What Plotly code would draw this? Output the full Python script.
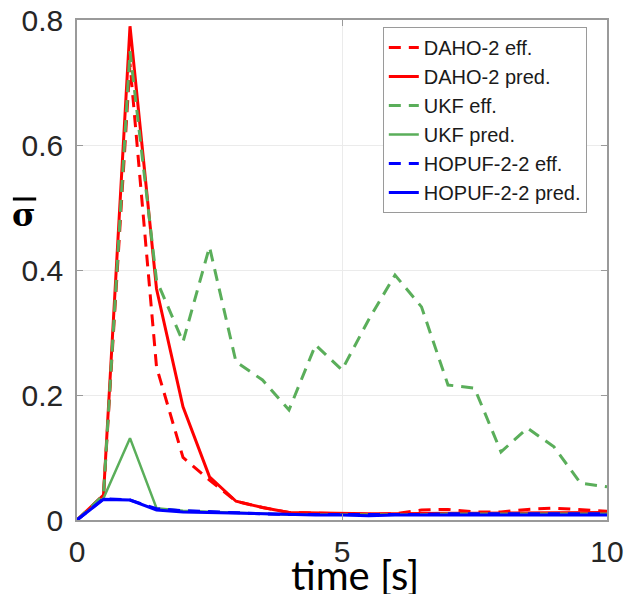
import plotly.graph_objects as go

time_s = [0, 0.5, 1, 1.5, 2, 2.5, 3, 3.5, 4, 4.5, 5, 5.5, 6, 6.5, 7, 7.5, 8, 8.5, 9, 9.5, 10]

daho_eff = [0, 0.04, 0.73, 0.245, 0.10, 0.064, 0.03, 0.02, 0.012, 0.011, 0.01, 0.009, 0.01,
            0.016, 0.017, 0.013, 0.013, 0.017, 0.019, 0.016, 0.014]
daho_pred = [0, 0.04, 0.79, 0.37, 0.181, 0.069, 0.03, 0.02, 0.012, 0.011, 0.011, 0.01, 0.01,
             0.011, 0.011, 0.011, 0.011, 0.011, 0.012, 0.012, 0.012]
ukf_eff = [0, 0.04, 0.75, 0.384, 0.285, 0.437, 0.253, 0.224, 0.176, 0.28, 0.24, 0.32, 0.392,
           0.341, 0.216, 0.211, 0.109, 0.147, 0.117, 0.059, 0.053]
ukf_pred = [0, 0.035, 0.131, 0.019, 0.015, 0.013, 0.011, 0.01, 0.009, 0.009, 0.009, 0.008, 0.009,
            0.009, 0.01, 0.01, 0.01, 0.01, 0.01, 0.01, 0.01]
hopuf_eff = [0, 0.034, 0.032, 0.018, 0.015, 0.013, 0.011, 0.01, 0.009, 0.009, 0.008, 0.008, 0.009,
             0.009, 0.01, 0.01, 0.01, 0.01, 0.01, 0.01, 0.01]
hopuf_pred = [0, 0.033, 0.032, 0.016, 0.013, 0.012, 0.01, 0.009, 0.008, 0.008, 0.008, 0.007, 0.008,
              0.008, 0.009, 0.009, 0.009, 0.009, 0.009, 0.009, 0.008]

series_names = ["DAHO-2 eff.", "DAHO-2 pred.", "UKF eff.", "UKF pred.",
                "HOPUF-2-2 eff.", "HOPUF-2-2 pred."]
x_ticks = [0, 5, 10]
y_ticks = [0, 0.2, 0.4, 0.6, 0.8]
y_ticklabels = ["0", "0.2", "0.4", "0.6", "0.8"]

RED = "#ff0000"
GREEN = "#5aae5a"
BLUE = "#0000ff"
DASH = "12px,8px"

styles = [
    (daho_eff, RED, DASH, 3),
    (daho_pred, RED, "solid", 3),
    (ukf_eff, GREEN, DASH, 3),
    (ukf_pred, GREEN, "solid", 2.5),
    (hopuf_eff, BLUE, DASH, 3),
    (hopuf_pred, BLUE, "solid", 3),
]

fig = go.Figure()
for name, (vals, col, dash, w) in zip(series_names, styles):
    fig.add_trace(go.Scatter(x=time_s, y=vals, mode="lines", name=name,
                             line=dict(color=col, dash=dash, width=w)))

axis_common = dict(
    automargin=False,
    showline=True, linecolor="#9a9a9a", linewidth=1.5, mirror="ticks",
    ticks="inside", ticklen=6, tickcolor="#9a9a9a",
    showgrid=True, gridcolor="#ebebeb", gridwidth=1, zeroline=False,
    tickfont=dict(family="Liberation Sans, Arial", size=30, color="#262626"),
)

fig.update_layout(
    width=626, height=594,
    margin=dict(l=77, r=19, t=20, b=74, autoexpand=False),
    paper_bgcolor="white", plot_bgcolor="white",
    xaxis=dict(range=[0, 10], tickvals=x_ticks, ticklabelstandoff=4, **axis_common),
    yaxis=dict(range=[0, 0.8], tickvals=y_ticks, ticktext=y_ticklabels,
               ticklabelstandoff=6, **axis_common),
    legend=dict(x=0.577, y=0.986, xanchor="left", yanchor="top",
                bgcolor="white", bordercolor="#9a9a9a", borderwidth=1,
                font=dict(family="Liberation Sans, Arial", size=20, color="#1a1a1a"),
                tracegroupgap=0, itemwidth=30),
    showlegend=True,
)

# x axis title
fig.add_annotation(text="time [s]", xref="paper", yref="paper", x=0.525, y=-0.11,
                   xanchor="center", yanchor="middle", showarrow=False,
                   font=dict(family="Lato, Open Sans", size=40, color="black"))
# y axis title: sigma with overline
fig.add_annotation(text="<b>σ</b>", xref="paper", yref="paper", x=-0.1, y=0.61,
                   xanchor="center", yanchor="middle", showarrow=False,
                   font=dict(family="DejaVu Serif", size=32, color="black"))
fig.add_shape(type="line", xref="paper", yref="paper", x0=-0.121, x1=-0.077,
              y0=0.642, y1=0.642, line=dict(color="black", width=3))

fig.write_html("out.html", config={"displayModeBar": False},
               post_script="document.body.style.margin='0px';document.body.style.overflow='hidden';")
